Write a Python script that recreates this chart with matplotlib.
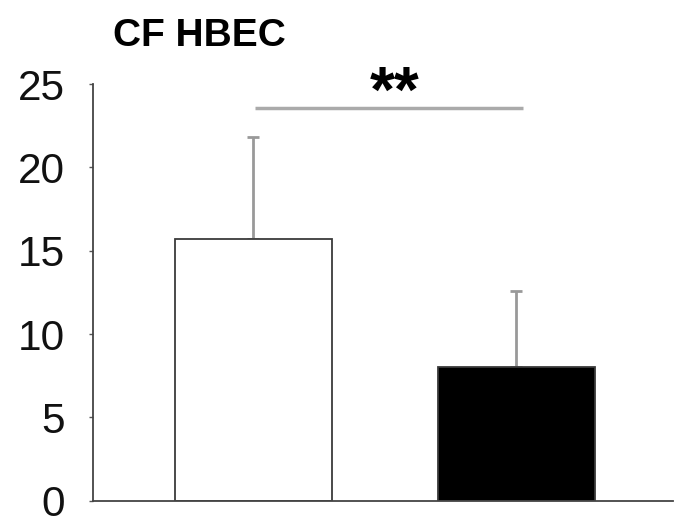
import matplotlib
matplotlib.use("Agg")
import matplotlib.pyplot as plt

plt.rcParams['font.family'] = ['Liberation Sans', 'DejaVu Sans']

groups = ["Control", "Treated"]
means = [15.7, 8.0]
errors = [6.15, 4.6]
colors = ["white", "black"]
yticks = [0, 5, 10, 15, 20, 25]
title = "CF HBEC"
sig_label = "**"

fig = plt.figure(figsize=(6.88, 5.27), dpi=100)
ax = fig.add_axes([93/688, 1-500.7/527, (673-93)/688, (500.7-84)/527])

x = [0, 1]
ax.bar(x, means, width=0.597, color=colors, edgecolor="#3a3a3a", linewidth=1.3, zorder=2)
ax.errorbar(x, means, yerr=[[0, 0], errors], fmt='none', ecolor="#999999",
            elinewidth=2, capsize=4, capthick=2, zorder=1)

ax.set_xlim(-0.610, 1.595)
ax.set_ylim(0, 25)
ax.set_yticks(yticks)
ax.set_xticks([])
ax.tick_params(axis='y', length=3, width=1, color="#555555", labelsize=30.5, pad=17)
for lab in ax.get_yticklabels():
    lab.set_color("#111111")

for s in ["top", "right"]:
    ax.spines[s].set_visible(False)
for s in ["left", "bottom"]:
    ax.spines[s].set_color("#444444")
    ax.spines[s].set_linewidth(1.3)

# significance line
ax.plot([0.006, 1.025], [23.58, 23.58], color="#aaaaaa", lw=2.5, clip_on=False, solid_capstyle='butt')
ax.text(0.535, 23.36, sig_label, ha='center', va='baseline', fontsize=46, fontweight='bold', clip_on=False)

fig.text(113/688, 1-46/527, title, ha='left', va='baseline', fontsize=28, fontweight='bold')

fig.savefig("out.png", dpi=100, facecolor="white")
